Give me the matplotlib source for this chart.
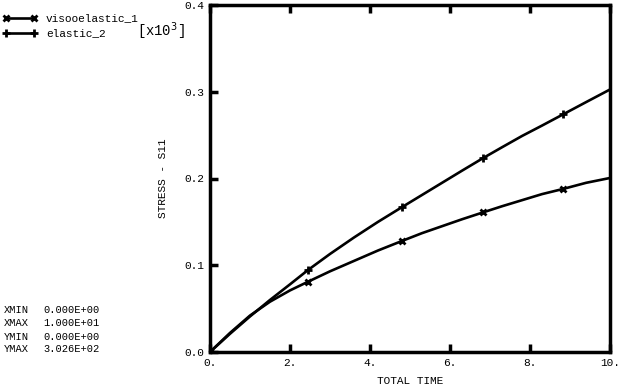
import matplotlib
matplotlib.use("Agg")
import matplotlib.pyplot as plt

# Data
time = [0.0, 0.5, 1.0, 1.5, 2.0, 2.45, 3.0, 3.6, 4.2, 4.8, 5.3, 5.8, 6.3, 6.83,
        7.3, 7.8, 8.3, 8.83, 9.4, 10.0]
visco = [0.0, 0.022, 0.042, 0.058, 0.071, 0.081, 0.093, 0.105, 0.117, 0.128,
         0.137, 0.145, 0.153, 0.161, 0.168, 0.175, 0.182, 0.188, 0.195, 0.2006]
elastic = [0.0, 0.021, 0.041, 0.060, 0.078, 0.0945, 0.113, 0.132, 0.150, 0.167,
           0.181, 0.195, 0.209, 0.2236, 0.236, 0.249, 0.261, 0.274, 0.288, 0.3026]
marker_idx = [0, 5, 9, 13, 17]
xticks = [0, 2, 4, 6, 8, 10]
xtick_labels = ["0.", "2.", "4.", "6.", "8.", "10."]
yticks = [0.0, 0.1, 0.2, 0.3, 0.4]
ytick_labels = ["0.0", "0.1", "0.2", "0.3", "0.4"]
info_keys = ["XMIN", "XMAX", "YMIN", "YMAX"]
info_vals = ["0.000E+00", "1.000E+01", "0.000E+00", "3.026E+02"]

FONT = "Liberation Mono"
FS = 8
W, H = 619, 390
fig = plt.figure(figsize=(W / 100, H / 100), dpi=100)
ax = fig.add_axes([210 / W, 1 - 352 / H, 400 / W, 347 / H])

ax.plot(time, visco, color="black", lw=1.9, marker="x", ms=5, mew=2,
        markevery=marker_idx, label="visooelastic_1")
ax.plot(time, elastic, color="black", lw=1.9, marker="+", ms=6, mew=2,
        markevery=marker_idx, label="elastic_2")

ax.set_xlim(0, 10)
ax.set_ylim(0, 0.4)
ax.set_xticks(xticks)
ax.set_xticklabels(xtick_labels, fontfamily=FONT, fontsize=FS)
ax.set_yticks(yticks)
ax.set_yticklabels(ytick_labels, fontfamily=FONT, fontsize=FS)
ax.tick_params(axis="both", direction="in", length=6, width=2.5, pad=4,
               top=True, right=False)
for s in ax.spines.values():
    s.set_linewidth(2.5)

ax.set_xlabel("TOTAL TIME", fontfamily=FONT, fontsize=FS, labelpad=6)
ax.set_ylabel("STRESS - S11", fontfamily=FONT, fontsize=FS, labelpad=12)

fig.text(137 / W, 1 - 31 / H, r"[x10$^{3}$]", fontfamily=FONT, fontsize=FS + 2,
         va="center", ha="left")

leg = ax.legend(loc="upper left", bbox_to_anchor=(-0.003, 1 - 9 / H),
                bbox_transform=fig.transFigure, frameon=False, numpoints=2,
                handlelength=3.1, handletextpad=0.8, labelspacing=0.45,
                borderaxespad=0, prop={"family": FONT, "size": FS})

for i, (k, v) in enumerate(zip(info_keys, info_vals)):
    y = [310, 323, 337, 349][i]
    fig.text(4 / W, 1 - y / H, k, fontfamily=FONT, fontsize=FS - 0.5, va="center")
    fig.text(43 / W, 1 - y / H, v, fontfamily=FONT, fontsize=FS - 0.5, va="center")

fig.savefig("out.png", dpi=100)
